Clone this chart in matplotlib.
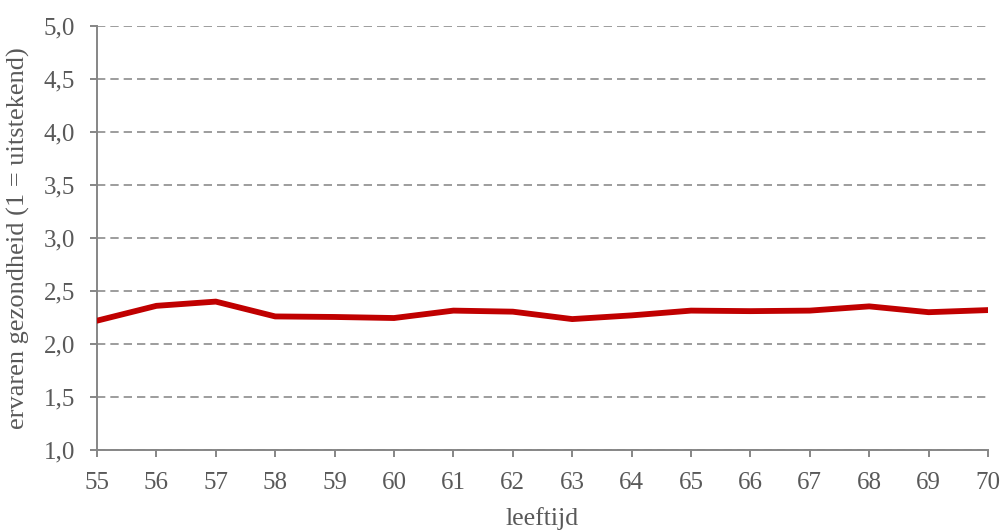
import matplotlib
matplotlib.use("Agg")
import matplotlib.pyplot as plt
from matplotlib.ticker import FuncFormatter

# ervaren gezondheid per leeftijd
leeftijd = [55, 56, 57, 58, 59, 60, 61, 62, 63, 64, 65, 66, 67, 68, 69, 70]
gezondheid = [2.22, 2.36, 2.40, 2.26, 2.255, 2.245, 2.315, 2.305,
              2.235, 2.27, 2.315, 2.31, 2.315, 2.355, 2.30, 2.32]

plt.rcParams['font.family'] = ['Liberation Serif', 'DejaVu Serif']
grijs = '#868686'
tekst = '#595959'

fig = plt.figure(figsize=(10.03, 5.31), dpi=100)
ax = fig.add_axes([97/1003, 1 - 450/531, (988 - 97)/1003, (450 - 26)/531])

ax.plot(leeftijd, gezondheid, color='#c00000', linewidth=4.2,
        solid_joinstyle='round', solid_capstyle='round', zorder=3)

ax.set_xlim(55, 70)
ax.set_ylim(1.0, 5.0)
ax.set_xticks(leeftijd)
ax.set_yticks([1.0, 1.5, 2.0, 2.5, 3.0, 3.5, 4.0, 4.5, 5.0])
ax.yaxis.set_major_formatter(FuncFormatter(lambda v, p: f"{v:.1f}".replace('.', ',')))

ax.grid(axis='y', color='#8c8c8c', linestyle=(0, (5, 3)), linewidth=1.2)
ax.set_axisbelow(True)
for s in ['top', 'right']:
    ax.spines[s].set_visible(False)
for s in ['left', 'bottom']:
    ax.spines[s].set_color(grijs)
    ax.spines[s].set_linewidth(1.4)

ax.tick_params(axis='both', colors=grijs, labelcolor=tekst, labelsize=18,
               length=5, width=1.4, direction='out')
ax.tick_params(axis='y', pad=11)
ax.tick_params(axis='x', pad=11)

ax.set_xlabel('leeftijd', fontsize=18.5, color=tekst)
ax.set_ylabel('ervaren gezondheid (1 = uitstekend)', fontsize=19, color=tekst)
ax.xaxis.set_label_coords(0.5, -0.135)
ax.yaxis.set_label_coords(-0.075, 0.5)

fig.savefig('out.png', dpi=100)
